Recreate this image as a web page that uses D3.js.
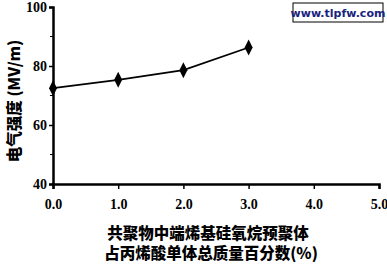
<!DOCTYPE html>
<html>
<head>
<meta charset="utf-8">
<script src="https://cdn.jsdelivr.net/npm/d3@7"></script>
<style>
  body { margin: 0; background: #fff; }
  .tick text { font-family: "Liberation Serif", serif; font-weight: bold; font-size: 14px; fill: #000; }
  .label { font-family: "Noto Sans CJK SC", sans-serif; font-weight: 900; font-size: 15.5px; fill: #000; }
</style>
</head>
<body>
<svg id="chart"></svg>
<script>
// chart data
var xs = [0, 1, 2, 3];
var strength = [72.5, 75.3, 78.6, 86.3];
var xTicks = [0, 1, 2, 3, 4, 5];
var yTicks = [40, 60, 80, 100];
var yMinor = [50, 70, 90];

var w = 387;
var h = 264;
var padding = { top: 7, bottom: 80, left: 53, right: 8 };

var svg = d3.select("#chart")
  .attr("width", w)
  .attr("height", h);

var xScale = d3.scaleLinear()
  .domain([0, 5])
  .range([padding.left, w - padding.right]);

var yScale = d3.scaleLinear()
  .domain([40, 100])
  .range([h - padding.bottom, padding.top]);

var xAxis = d3.axisBottom(xScale)
  .tickValues(xTicks)
  .tickFormat(d3.format(".1f"))
  .tickSize(5)
  .tickPadding(10);

var yAxis = d3.axisLeft(yScale)
  .tickValues(yTicks)
  .tickSize(4)
  .tickPadding(2);

var gx = svg.append("g")
  .attr("transform", "translate(0," + yScale(40) + ")")
  .call(xAxis);
gx.select(".domain").attr("stroke-width", 2.5);
gx.selectAll(".tick line").attr("stroke-width", 1.5);

var gy = svg.append("g")
  .attr("transform", "translate(" + padding.left + ",0)")
  .call(yAxis);
gy.select(".domain").attr("stroke-width", 2.5);
gy.selectAll(".tick line").attr("stroke-width", 1.5);

// minor ticks on y axis
svg.selectAll(".minor")
  .data(yMinor)
  .enter()
  .append("line")
  .attr("x1", padding.left - 3)
  .attr("x2", padding.left)
  .attr("y1", function(d) { return yScale(d); })
  .attr("y2", function(d) { return yScale(d); })
  .attr("stroke", "#000")
  .attr("stroke-width", 1);

// line
var pts = xs.map(function(x, i) { return [x, strength[i]]; });
var line = d3.line()
  .x(function(d) { return xScale(d[0]); })
  .y(function(d) { return yScale(d[1]); });

svg.append("path")
  .datum(pts)
  .attr("d", line)
  .attr("fill", "none")
  .attr("stroke", "#000")
  .attr("stroke-width", 1.6);

// diamond markers
svg.selectAll(".pt")
  .data(pts)
  .enter()
  .append("path")
  .attr("d", "M0,-8L4,0L0,8L-4,0Z")
  .attr("transform", function(d) {
    return "translate(" + xScale(d[0]) + "," + yScale(d[1]) + ")";
  })
  .attr("fill", "#000");

// axis labels
svg.append("text")
  .text("电气强度 (MV/m)")
  .attr("class", "label")
  .attr("text-anchor", "middle")
  .attr("transform", "translate(20,101) rotate(-90)");

svg.append("text")
  .text("共聚物中端烯基硅氧烷预聚体")
  .attr("class", "label")
  .attr("text-anchor", "middle")
  .attr("x", 208)
  .attr("y", 239);

svg.append("text")
  .text("占丙烯酸单体总质量百分数(%)")
  .attr("class", "label")
  .attr("text-anchor", "middle")
  .attr("x", 211)
  .attr("y", 259);

// watermark
svg.append("rect")
  .attr("x", 293)
  .attr("y", 3)
  .attr("width", 90)
  .attr("height", 19)
  .attr("fill", "#fff")
  .attr("stroke", "#000")
  .attr("stroke-width", 1);

svg.append("text")
  .text("www.tlpfw.com")
  .attr("x", 338)
  .attr("y", 17)
  .attr("text-anchor", "middle")
  .attr("font-family", "DejaVu Sans, sans-serif")
  .attr("font-weight", "bold")
  .attr("font-size", "11px")
  .attr("fill", "#1a237e");
</script>
</body>
</html>
